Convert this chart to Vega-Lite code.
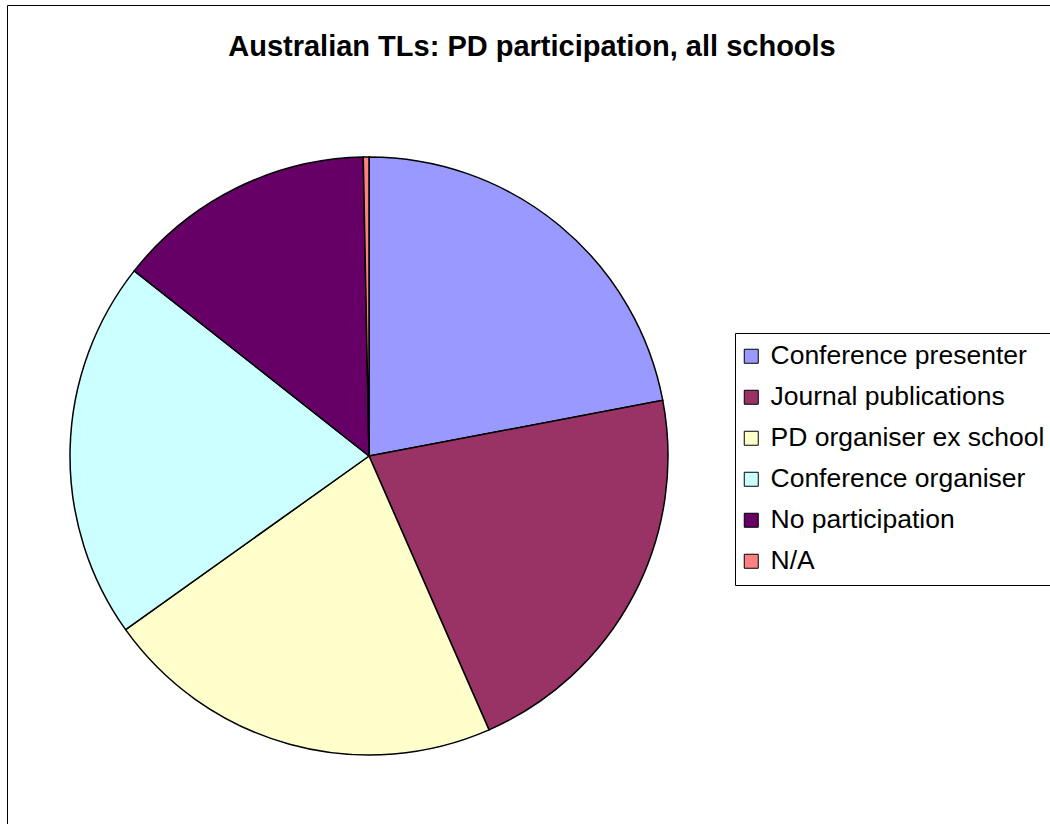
{
  "$schema": "https://vega.github.io/schema/vega-lite/v6.json",
  "width": 1050,
  "height": 830,
  "autosize": {"type": "none"},
  "padding": {"left": 7, "top": 5, "right": 0, "bottom": 0},
  "background": "white",
  "view": {"stroke": "black", "strokeWidth": 1, "fill": "white"},
  "title": {
    "text": "Australian TLs: PD participation, all schools",
    "anchor": "middle",
    "frame": "group",
    "offset": -57,
    "font": "Liberation Sans",
    "fontSize": 29,
    "fontWeight": "bold",
    "color": "black"
  },
  "data": {
    "values": [
      {"category": "Conference presenter", "count": 72, "rank": 1},
      {"category": "Journal publications", "count": 70, "rank": 2},
      {"category": "PD organiser ex school", "count": 71, "rank": 3},
      {"category": "Conference organiser", "count": 67, "rank": 4},
      {"category": "No participation", "count": 46, "rank": 5},
      {"category": "N/A", "count": 1, "rank": 6}
    ]
  },
  "mark": {"type": "arc", "radius": 299, "x": 362, "y": 451, "stroke": "black", "strokeWidth": 1.5},
  "encoding": {
    "theta": {"field": "count", "type": "quantitative", "stack": true},
    "order": {"field": "rank", "type": "quantitative", "sort": "ascending"},
    "color": {
      "field": "category",
      "type": "nominal",
      "scale": {
        "domain": ["Conference presenter", "Journal publications", "PD organiser ex school", "Conference organiser", "No participation", "N/A"],
        "range": ["#9999FF", "#993366", "#FFFFCC", "#CCFFFF", "#660066", "#FF8080"]
      },
      "legend": {
        "title": null,
        "orient": "none",
        "legendX": 728,
        "legendY": 328,
        "symbolType": "square",
        "symbolSize": 196,
        "symbolStrokeColor": "black",
        "symbolStrokeWidth": 1,
        "symbolOpacity": 1,
        "symbolOffset": -7,
        "labelFont": "Liberation Sans",
        "labelFontSize": 26.5,
        "labelColor": "black",
        "labelOffset": 6,
        "labelLimit": 500,
        "rowPadding": 14,
        "padding": 10,
        "strokeColor": "black",
        "fillColor": "white"
      }
    }
  }
}
